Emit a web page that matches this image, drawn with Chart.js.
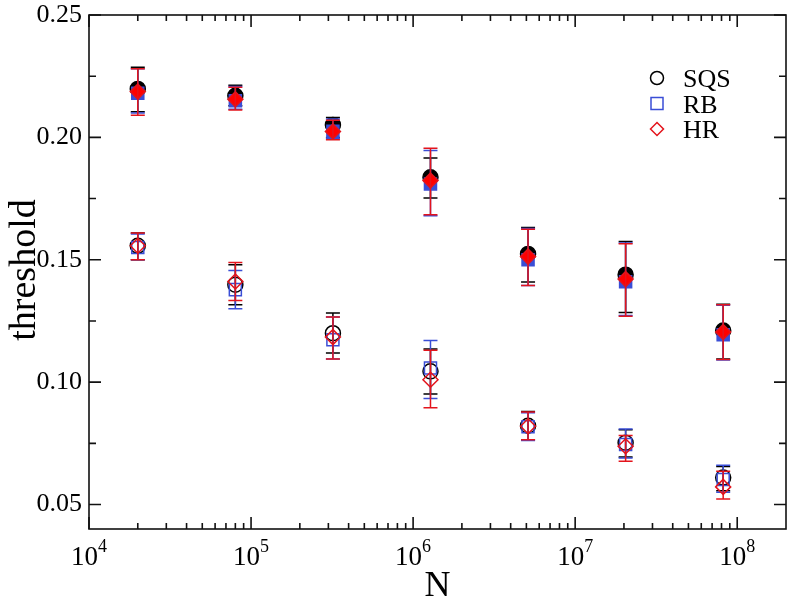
<!DOCTYPE html>
<html>
<head>
<meta charset="utf-8">
<script src="https://cdn.jsdelivr.net/npm/chart.js@4"></script>
<style>
    html, body { margin: 0; padding: 0; background: #fff; }
    #wrap { width: 796px; height: 607px; }
</style>
</head>
<body>
<div id="wrap"><canvas id="thresholdChart" width="796" height="607"></canvas></div>
<script>
// system sizes N
const sizes = [2e4, 8e4, 3.2e5, 1.28e6, 5.12e6, 2.048e7, 8.192e7];

// upper branch (filled symbols)
const sqsUpper = [0.2198, 0.2170, 0.2051, 0.1837, 0.1524, 0.1439, 0.1211];
const sqsUpperLow = [0.2105, 0.2129, 0.2000, 0.1752, 0.1409, 0.1285, 0.1095];
const sqsUpperHigh = [0.2287, 0.2213, 0.2081, 0.1916, 0.1632, 0.1575, 0.1318];

const rbUpper = [0.2180, 0.2150, 0.2025, 0.1810, 0.1500, 0.1410, 0.1194];
const rbUpperLow = [0.2100, 0.2115, 0.1995, 0.1680, 0.1395, 0.1272, 0.1090];
const rbUpperHigh = [0.2280, 0.2208, 0.2075, 0.1946, 0.1628, 0.1568, 0.1314];

const hrUpper = [0.2187, 0.2156, 0.2024, 0.1824, 0.1513, 0.1421, 0.1205];
const hrUpperLow = [0.2090, 0.2112, 0.1990, 0.1684, 0.1395, 0.1269, 0.1092];
const hrUpperHigh = [0.2280, 0.2205, 0.2070, 0.1956, 0.1625, 0.1565, 0.1316];

// lower branch (open symbols)
const sqsLower = [0.1557, 0.1398, 0.1200, 0.1044, 0.0822, 0.0752, 0.0610];
const sqsLowerLow = [0.1500, 0.1316, 0.1119, 0.0952, 0.0765, 0.0694, 0.0556];
const sqsLowerHigh = [0.1609, 0.1480, 0.1282, 0.1135, 0.0880, 0.0805, 0.0655];

const rbLower = [0.1550, 0.1378, 0.1173, 0.1058, 0.0818, 0.0745, 0.0602];
const rbLowerLow = [0.1500, 0.1300, 0.1095, 0.0933, 0.0762, 0.0690, 0.0550];
const rbLowerHigh = [0.1605, 0.1456, 0.1266, 0.1170, 0.0875, 0.0809, 0.0660];

const hrLower = [0.1557, 0.1411, 0.1184, 0.1010, 0.0820, 0.0738, 0.0572];
const hrLowerLow = [0.1500, 0.1334, 0.1095, 0.0895, 0.0765, 0.0677, 0.0523];
const hrLowerHigh = [0.1609, 0.1489, 0.1266, 0.1130, 0.0878, 0.0782, 0.0636];

const yTicks = [0.05, 0.10, 0.15, 0.20, 0.25];
const xDecades = [4, 5, 6, 7, 8];
const legendLabels = ["SQS", "RB", "HR"];

const BLACK = "#000000";
const BLUE = "#3a4ed6";
const RED = "#e3141c";
const FONT = "'Liberation Serif', 'Times New Roman', serif";

const toPoints = ys => sizes.map((x, i) => ({ x, y: ys[i] }));

function makeSet(label, ys, lo, hi, color, style, filled, order) {
    return {
        label,
        data: toPoints(ys),
        errLow: lo,
        errHigh: hi,
        showLine: false,
        pointStyle: style,
        pointRadius: style === "rect" ? 8.5 : 7.5,
        pointBorderWidth: 1.5,
        borderColor: color,
        pointBorderColor: color,
        pointBackgroundColor: filled ? (style === "rectRot" ? "#ff0000" : color) : "rgba(0,0,0,0)",
        order
    };
}

const datasets = [
    makeSet("SQS filled", sqsUpper, sqsUpperLow, sqsUpperHigh, BLACK, "circle", true, 6),
    makeSet("RB filled", rbUpper, rbUpperLow, rbUpperHigh, BLUE, "rect", true, 5),
    makeSet("HR filled", hrUpper, hrUpperLow, hrUpperHigh, RED, "rectRot", true, 4),
    makeSet("SQS", sqsLower, sqsLowerLow, sqsLowerHigh, BLACK, "circle", false, 3),
    makeSet("RB", rbLower, rbLowerLow, rbLowerHigh, BLUE, "rect", false, 2),
    makeSet("HR", hrLower, hrLowerLow, hrLowerHigh, RED, "rectRot", false, 1)
];

// error bars, drawn right after each dataset's own symbols
const errorBars = {
    id: "errorBars",
    afterDatasetDraw(chart, args) {
        const ds = chart.data.datasets[args.index];
        const xs = chart.scales.x, ys = chart.scales.y;
        const ctx = chart.ctx;
        ctx.save();
        ctx.strokeStyle = ds.borderColor;
        ctx.lineWidth = 1.5;
        ds.data.forEach((p, i) => {
            const px = xs.getPixelForValue(p.x);
            const top = ys.getPixelForValue(ds.errHigh[i]);
            const bot = ys.getPixelForValue(ds.errLow[i]);
            ctx.beginPath();
            ctx.moveTo(px, top); ctx.lineTo(px, bot);
            ctx.moveTo(px - 7, top); ctx.lineTo(px + 7, top);
            ctx.moveTo(px - 7, bot); ctx.lineTo(px + 7, bot);
            ctx.stroke();
        });
        ctx.restore();
    }
};

// frame, inward ticks on all sides, x labels with exponents, axis titles, legend
const decorations = {
    id: "decorations",
    afterDraw(chart) {
        const ctx = chart.ctx;
        const a = chart.chartArea;
        const xs = chart.scales.x, ys = chart.scales.y;
        ctx.save();
        ctx.strokeStyle = "#111";
        ctx.lineWidth = 1.6;
        ctx.strokeRect(a.left, a.top, a.right - a.left, a.bottom - a.top);

        ctx.beginPath();
        // x ticks
        xDecades.forEach(d => {
            const base = Math.pow(10, d);
            const px = xs.getPixelForValue(base);
            ctx.moveTo(px, a.bottom); ctx.lineTo(px, a.bottom - 12);
            ctx.moveTo(px, a.top); ctx.lineTo(px, a.top + 12);
            for (let m = 2; m <= 9; m++) {
                const v = m * base;
                if (v >= xs.max) break;
                const mx = xs.getPixelForValue(v);
                ctx.moveTo(mx, a.bottom); ctx.lineTo(mx, a.bottom - 6);
                ctx.moveTo(mx, a.top); ctx.lineTo(mx, a.top + 6);
            }
        });
        // y ticks
        yTicks.forEach(v => {
            const py = ys.getPixelForValue(v);
            ctx.moveTo(a.left, py); ctx.lineTo(a.left + 12, py);
            ctx.moveTo(a.right, py); ctx.lineTo(a.right - 12, py);
            const my = ys.getPixelForValue(v - 0.025);
            if (v - 0.025 > ys.min) {
                ctx.moveTo(a.left, my); ctx.lineTo(a.left + 7, my);
                ctx.moveTo(a.right, my); ctx.lineTo(a.right - 7, my);
            }
        });
        ctx.stroke();

        // x tick labels 10^n
        ctx.fillStyle = "#000";
        ctx.textBaseline = "alphabetic";
        ctx.textAlign = "left";
        xDecades.forEach(d => {
            const px = xs.getPixelForValue(Math.pow(10, d));
            ctx.font = "27px " + FONT;
            const w1 = ctx.measureText("10").width;
            ctx.font = "18px " + FONT;
            const w2 = ctx.measureText(String(d)).width;
            const x0 = px - (w1 + w2) / 2;
            ctx.font = "27px " + FONT;
            ctx.fillText("10", x0, 565);
            ctx.font = "18px " + FONT;
            ctx.fillText(String(d), x0 + w1, 552);
        });

        // axis titles
        ctx.textAlign = "center";
        ctx.font = "36px " + FONT;
        ctx.fillText("N", (a.left + a.right) / 2, 596);
        ctx.save();
        ctx.font = "38px " + FONT;
        ctx.translate(35, 270);
        ctx.rotate(-Math.PI / 2);
        ctx.fillText("threshold", 0, 0);
        ctx.restore();

        // legend (open symbols)
        const legendSets = datasets.slice(3);
        ctx.textAlign = "left";
        ctx.font = "26px " + FONT;
        legendSets.forEach((ds, i) => {
            const cy = 78 + i * 25.5;
            const cx = 657;
            ctx.strokeStyle = ds.borderColor;
            ctx.lineWidth = 1.5;
            ctx.beginPath();
            if (ds.pointStyle === "circle") {
                ctx.arc(cx, cy, 6.5, 0, Math.PI * 2);
            } else if (ds.pointStyle === "rect") {
                ctx.rect(cx - 6, cy - 6, 12, 12);
            } else {
                ctx.moveTo(cx - 6.5, cy); ctx.lineTo(cx, cy - 6.5);
                ctx.lineTo(cx + 6.5, cy); ctx.lineTo(cx, cy + 6.5);
                ctx.closePath();
            }
            ctx.stroke();
            ctx.fillStyle = "#000";
            ctx.fillText(legendLabels[i], 683, cy + 9);
        });
        ctx.restore();
    }
};

new Chart(document.getElementById("thresholdChart"), {
    type: "scatter",
    data: { datasets },
    options: {
        responsive: false,
        animation: false,
        layout: { padding: { top: 15, right: 1, left: 0, bottom: 0 } },
        plugins: {
            legend: { display: false },
            tooltip: { enabled: false }
        },
        scales: {
            x: {
                type: "logarithmic",
                min: 1e4,
                max: 2e8,
                grid: { display: false, drawTicks: false },
                border: { display: false },
                ticks: { display: false },
                afterFit(scale) { scale.height = 78; scale.paddingLeft = 0; scale.paddingRight = 0; }
            },
            y: {
                type: "linear",
                min: 0.04,
                max: 0.25,
                grid: { display: false, drawTicks: false },
                border: { display: false },
                afterBuildTicks(scale) { scale.ticks = yTicks.map(v => ({ value: v })); },
                ticks: {
                    padding: 7,
                    color: "#000",
                    font: { family: FONT, size: 26 },
                    callback: v => v.toFixed(2)
                },
                afterFit(scale) { scale.width = 89; scale.paddingTop = 0; scale.paddingBottom = 0; }
            }
        }
    },
    plugins: [errorBars, decorations]
});
</script>
</body>
</html>
